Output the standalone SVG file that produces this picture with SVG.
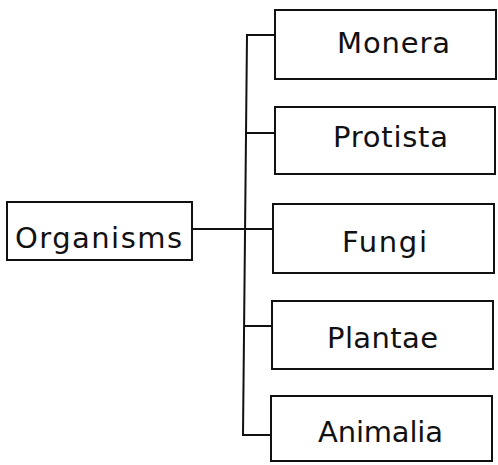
<svg xmlns="http://www.w3.org/2000/svg" width="498" height="465" viewBox="0 0 498 465">
<style>
.box{fill:#fff;stroke:#111;stroke-width:2}
.lbl{font-family:"DejaVu Sans","Liberation Sans",sans-serif;font-size:29px;fill:#111;text-anchor:middle}
.con{fill:none;stroke:#111;stroke-width:2}
</style>
<rect width="498" height="465" fill="#fff"/>
<g id="connectors">
<path class="con" d="M275,35 H247 L243,435 H271"/>
<path class="con" d="M246,133 H275"/>
<path class="con" d="M192,229 H273"/>
<path class="con" d="M244,326 H272"/>
</g>
<g id="organisms">
<rect class="box" x="7" y="202" width="185" height="58"/>
<text class="lbl" x="98.5" y="248" textLength="167" lengthAdjust="spacing">Organisms</text>
</g>
<g id="monera">
<rect class="box" x="275" y="10" width="221" height="69"/>
<text class="lbl" x="393.5" y="53" textLength="113" lengthAdjust="spacing">Monera</text>
</g>
<g id="protista">
<rect class="box" x="275" y="107" width="220" height="67"/>
<text class="lbl" x="390.5" y="147" textLength="115" lengthAdjust="spacing">Protista</text>
</g>
<g id="fungi">
<rect class="box" x="273" y="204" width="221" height="69"/>
<text class="lbl" x="384.5" y="252" textLength="85" lengthAdjust="spacing">Fungi</text>
</g>
<g id="plantae">
<rect class="box" x="272" y="301" width="221" height="68"/>
<text class="lbl" x="382.5" y="348" textLength="111" lengthAdjust="spacing">Plantae</text>
</g>
<g id="animalia">
<rect class="box" x="271" y="396" width="221" height="65"/>
<text class="lbl" x="380.5" y="442" textLength="125" lengthAdjust="spacing">Animalia</text>
</g>
</svg>
